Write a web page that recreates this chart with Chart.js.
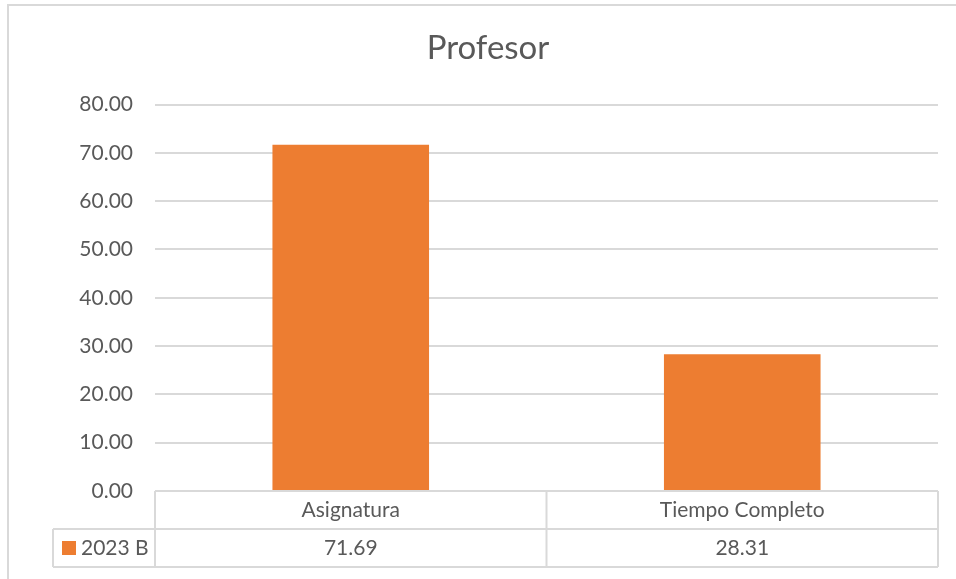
<html>
  <body style="margin:0;background:#fff">
    <script src="https://cdn.jsdelivr.net/npm/chart.js@4.4.0/dist/chart.umd.min.js"></script>
    <canvas id="myChart" width="956" height="579"></canvas>
    <script>
      var categories = ["Asignatura", "Tiempo Completo"];
      var seriesName = "2023 B";
      var values = [71.69, 28.31];
      var yTicks = [0, 10, 20, 30, 40, 50, 60, 70, 80];

      var font = "Lato, 'Open Sans', sans-serif";
      var lineColor = "#d9d9d9";
      var textColor = "#595959";

      // draws the outer frame and the data table under the plot
      var tablePlugin = {
        id: "dataTable",
        afterDraw: function (chart) {
          var ctx = chart.ctx;
          var xs = chart.scales.x;
          var area = chart.chartArea;
          var rowH = 38;
          var top = area.bottom;
          var mid = top + rowH;
          var bot = mid + rowH;
          var legendLeft = 53;
          ctx.save();
          ctx.strokeStyle = lineColor;
          ctx.lineWidth = 2;
          ctx.beginPath();
          // outer frame (top and left visible)
          ctx.moveTo(8, 579);
          ctx.lineTo(8, 5);
          ctx.lineTo(956, 5);
          // table lines
          ctx.moveTo(area.left, top);
          ctx.lineTo(area.right, top);
          ctx.moveTo(legendLeft, mid);
          ctx.lineTo(area.right, mid);
          ctx.moveTo(legendLeft, bot);
          ctx.lineTo(area.right, bot);
          ctx.moveTo(legendLeft, mid);
          ctx.lineTo(legendLeft, bot);
          ctx.moveTo(area.left, top);
          ctx.lineTo(area.left, bot);
          var step = xs.getPixelForValue(1) - xs.getPixelForValue(0);
          for (var i = 0; i < categories.length; i++) {
            var edge = xs.getPixelForValue(i) + step / 2;
            ctx.moveTo(edge, top);
            ctx.lineTo(edge, bot);
          }
          ctx.stroke();

          ctx.fillStyle = textColor;
          ctx.font = "21px " + font;
          ctx.textAlign = "center";
          ctx.textBaseline = "middle";
          for (var j = 0; j < categories.length; j++) {
            var cx = xs.getPixelForValue(j);
            ctx.fillText(categories[j], cx, top + rowH / 2);
            ctx.fillText(values[j].toFixed(2), cx, mid + rowH / 2);
          }
          // legend key
          ctx.fillStyle = "#ED7D31";
          ctx.fillRect(62, mid + 12, 14, 14);
          ctx.fillStyle = textColor;
          ctx.textAlign = "left";
          ctx.fillText(seriesName, 81, mid + rowH / 2);
          ctx.restore();
        }
      };

      var ctx = document.getElementById("myChart").getContext("2d");
      var myChart = new Chart(ctx, {
        type: "bar",
        data: {
          labels: categories,
          datasets: [
            {
              label: seriesName,
              data: values,
              backgroundColor: "#ED7D31",
              barPercentage: 0.4,
              categoryPercentage: 1
            }
          ]
        },
        options: {
          responsive: false,
          animation: false,
          layout: { padding: { left: 38, right: 18, top: 0, bottom: 88 } },
          plugins: {
            legend: { display: false },
            tooltip: { enabled: false },
            title: {
              display: true,
              text: "Profesor",
              color: textColor,
              font: { family: font, size: 33, weight: "normal" },
              padding: { top: 29, bottom: 36 }
            }
          },
          scales: {
            x: {
              ticks: { display: false },
              grid: { display: false, drawTicks: false },
              border: { display: false }
            },
            y: {
              min: 0,
              max: 80,
              afterBuildTicks: function (scale) {
                scale.ticks = yTicks.map(function (v) { return { value: v }; });
              },
              afterFit: function (scale) {
                scale.width = 117;
              },
              ticks: {
                color: textColor,
                font: { family: font, size: 21 },
                padding: 22,
                callback: function (v) { return Number(v).toFixed(2); }
              },
              grid: { color: lineColor, lineWidth: 2, drawTicks: false },
              border: { display: false }
            }
          }
        },
        plugins: [tablePlugin]
      });
    </script>
  </body>
</html>
